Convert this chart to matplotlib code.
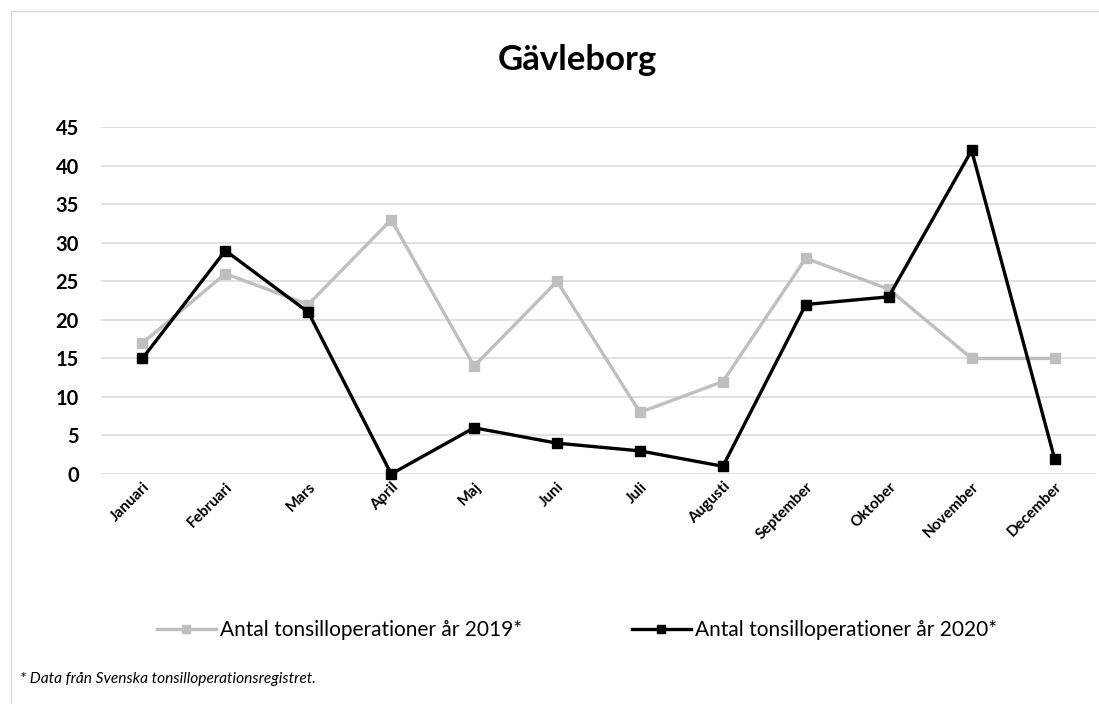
import matplotlib
matplotlib.use("Agg")
import matplotlib.pyplot as plt
from matplotlib.lines import Line2D

plt.rcParams['font.family'] = ['Lato', 'DejaVu Sans']

months = ["Januari", "Februari", "Mars", "April", "Maj", "Juni", "Juli",
          "Augusti", "September", "Oktober", "November", "December"]
ops_2019 = [17, 26, 22, 33, 14, 25, 8, 12, 28, 24, 15, 15]
ops_2020 = [15, 29, 21, 0, 6, 4, 3, 1, 22, 23, 42, 2]
label_2019 = "Antal tonsilloperationer år 2019*"
label_2020 = "Antal tonsilloperationer år 2020*"
yticks = [0, 5, 10, 15, 20, 25, 30, 35, 40, 45]

W, H = 1099, 704
fig = plt.figure(figsize=(W / 100, H / 100), dpi=100)
fig.patch.set_facecolor("white")

ax = fig.add_axes([101 / W, 1 - 474 / H, (1096 - 101) / W, (474 - 127.3) / H])

x = list(range(len(months)))
ax.plot(x, ops_2019, color="#BFBFBF", lw=2.4, marker="s", ms=7,
        zorder=3, clip_on=False)
ax.plot(x, ops_2020, color="black", lw=2.4, marker="s", ms=7,
        zorder=4, clip_on=False)

ax.set_xlim(-0.5, len(months) - 0.5)
ax.set_ylim(0, 45)
ax.set_yticks(yticks)
ax.set_yticklabels([str(v) for v in yticks], fontsize=14.5, fontweight="bold")
ax.set_xticks(x)
ax.set_xticklabels(months, rotation=45, ha="right", rotation_mode="anchor",
                   fontsize=11, fontweight="bold")
ax.tick_params(axis="both", length=0)
ax.tick_params(axis="y", pad=16)
ax.tick_params(axis="x", pad=4)
for s in ax.spines.values():
    s.set_visible(False)
ax.yaxis.grid(True, color="#D9D9D9", lw=1.1)
ax.set_axisbelow(True)

fig.text(577 / W, 1 - 70 / H, "Gävleborg", ha="center", va="baseline",
         fontsize=25, fontweight="bold")

handles = [Line2D([], [], color="#BFBFBF", lw=2.4, marker="s", ms=6),
           Line2D([], [], color="black", lw=2.4, marker="s", ms=6)]
fig.legend(handles, [label_2019, label_2020], loc="center",
           bbox_to_anchor=(577 / W, 1 - 630 / H), ncol=2, frameon=False,
           fontsize=15, handlelength=2.8, handletextpad=0.2,
           columnspacing=5.3, borderpad=0, borderaxespad=0)

fig.text(20 / W, 1 - 683 / H, "* Data från Svenska tonsilloperationsregistret.",
         ha="left", va="baseline", fontsize=11.2, style="italic")

# chart border (left & top visible)
fig.add_artist(Line2D([10.5 / W, 10.5 / W], [0, 1 - 10.5 / H],
                      transform=fig.transFigure, color="#D9D9D9", lw=1))
fig.add_artist(Line2D([10.5 / W, 1], [1 - 10.5 / H, 1 - 10.5 / H],
                      transform=fig.transFigure, color="#D9D9D9", lw=1))

fig.savefig("out.png", dpi=100, facecolor="white")
